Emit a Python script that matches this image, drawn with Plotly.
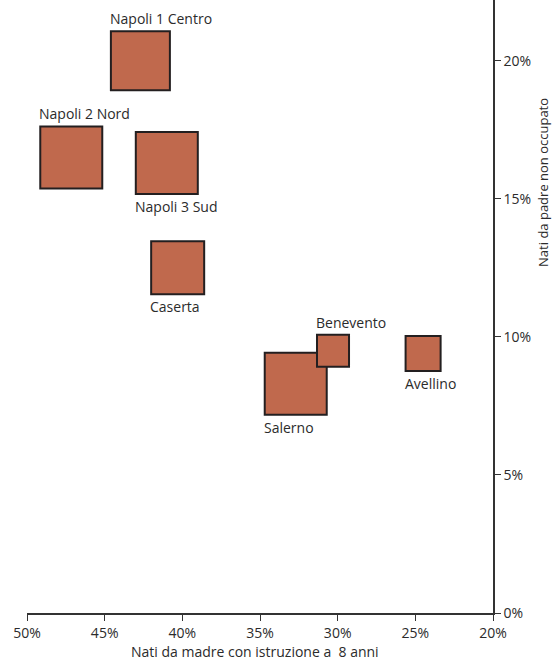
import numpy as np
import plotly.graph_objects as go

# ASL della Campania
asl = ['Napoli 1 Centro', 'Napoli 2 Nord', 'Napoli 3 Sud', 'Caserta',
       'Salerno', 'Benevento', 'Avellino']
madre_8anni = [42.7, 47.15, 41.0, 40.3, 32.7, 30.3, 24.5]   # % x
padre_non_occ = [20.0, 16.5, 16.3, 12.5, 8.3, 9.5, 9.4]      # % y
nati = [8150, 9000, 9000, 6580, 9000, 2400, 2870]           # peso (area quadrato)
label_pos = ['top', 'top', 'bottom', 'bottom', 'bottom', 'top', 'bottom']

FONT = 'Open Sans'
TXT = '#2b2b2b'
max_d = 62
sizeref = 2 * max(nati) / max_d ** 2

fig = go.Figure()
fig.add_trace(go.Scatter(
    x=madre_8anni, y=padre_non_occ, mode='markers',
    marker=dict(symbol='square', size=nati, sizemode='area', sizeref=sizeref,
                color='#c0694d', line=dict(color='#231f20', width=2), opacity=1),
    hoverinfo='text', text=asl, showlegend=False,
))

# etichette allineate al bordo sinistro dei quadrati
for name, x, y, n, pos in zip(asl, madre_8anni, padre_non_occ, nati, label_pos):
    half = max_d * np.sqrt(n / max(nati)) / 2 + 1
    fig.add_annotation(
        x=x, y=y, text=name, showarrow=False,
        xanchor='left', xshift=-half - 1,
        yanchor='bottom' if pos == 'top' else 'top',
        yshift=half + 1 if pos == 'top' else -half - 1,
        borderpad=0, font=dict(family=FONT, size=14, color=TXT),
    )

fig.add_annotation(text='Nati da madre con istruzione a  8 anni', xref='paper', yref='paper',
                   x=0.49, y=0, yshift=-38, xanchor='center', yanchor='middle',
                   showarrow=False, font=dict(family=FONT, size=14, color=TXT))
fig.add_annotation(text='Nati da padre non occupato', xref='paper', yref='paper',
                   x=1.107, y=0.703, xanchor='center', yanchor='middle', textangle=-90,
                   showarrow=False, font=dict(family=FONT, size=13, color=TXT))

fig.update_layout(
    width=556, height=662,
    margin=dict(l=27, r=63, t=0, b=49),
    plot_bgcolor='white', paper_bgcolor='white',
    font=dict(family=FONT, size=14, color=TXT),
    xaxis=dict(range=[50, 20], tickvals=[50, 45, 40, 35, 30, 25, 20],
               ticktext=['50%', '45%', '40%', '35%', '30%', '25%', '20%'],
               showgrid=False, zeroline=False, showline=True, linecolor='#333',
               linewidth=1.5, ticks='outside', ticklen=6, tickcolor='#333',
               tickfont=dict(size=14, color=TXT)),
    yaxis=dict(range=[0, 22.2], side='right', tickvals=[0, 5, 10, 15, 20],
               ticktext=['0%', '5%', '10%', '15%', '20%'],
               showgrid=False, zeroline=False, showline=True, linecolor='#333',
               linewidth=1.5, ticks='outside', ticklen=6, tickcolor='#333',
               tickfont=dict(size=14, color=TXT)),
)

fig.write_html('out.html', config={'displayModeBar': False},
               post_script="document.body.style.margin='0';")
